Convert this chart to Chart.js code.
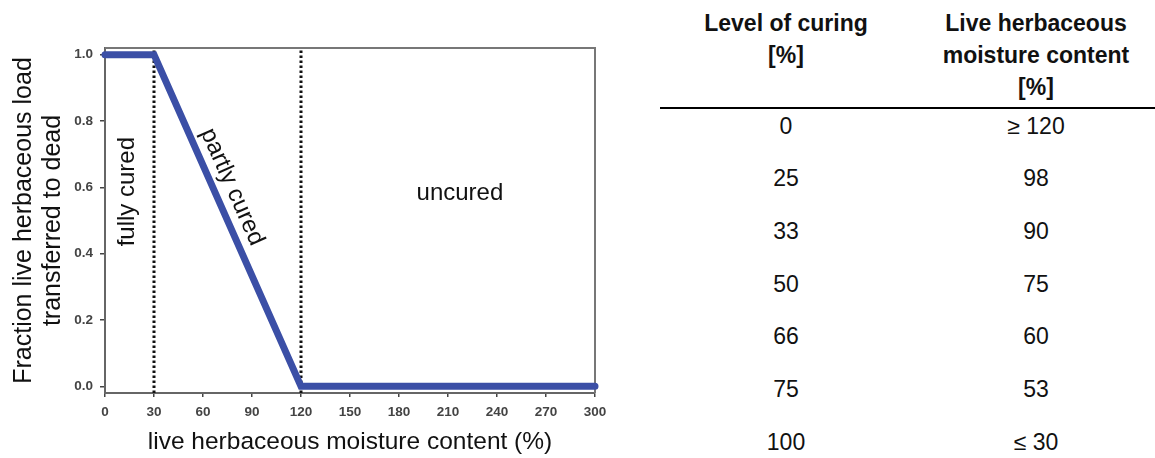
<!DOCTYPE html>
<html>
<head>
<meta charset="utf-8">
<script src="https://cdn.jsdelivr.net/npm/chart.js@4"></script>
<style>
    body { margin: 0; background: #fff; width: 1155px; height: 458px; overflow: hidden; position: relative;
           font-family: 'Liberation Sans', Arial, sans-serif; }
    #myChart { position: absolute; left: 0; top: 0; }
    .col { position: absolute; text-align: center; color: #111; }
    .head { top: 7px; font-weight: bold; font-size: 23px; line-height: 32px; }
    .cell { font-size: 23px; line-height: 28px; }
    #rule { position: absolute; left: 660px; top: 107px; width: 495px; height: 2px; background: #000; }
</style>
</head>
<body>
<canvas id="myChart" width="620" height="458"></canvas>
<div class="col head" style="left:686px; width:200px;">Level of curing<br>[%]</div>
<div class="col head" style="left:896px; width:280px;">Live herbaceous<br>moisture content<br>[%]</div>
<div id="rule"></div>
<div id="rows"></div>

<script>
    // 그래프 데이터
    let moisture = [0, 30, 120, 300];   // x : 생초 수분 함량 (%)
    let fraction = [1, 1, 0, 0];        // y : 고사체로 옮겨지는 비율
    let curingBounds = [30, 120];       // 점선 (fully / partly / uncured 경계)
    let xTicks = [0, 30, 60, 90, 120, 150, 180, 210, 240, 270, 300];
    let yTicks = [0, 0.2, 0.4, 0.6, 0.8, 1.0];

    // 오른쪽 표 데이터
    let curingLevels = ['0', '25', '33', '50', '66', '75', '100'];
    let moistureContent = ['≥ 120', '98', '90', '75', '60', '53', '≤ 30'];

    const FONT = "'Liberation Sans', Arial, sans-serif";

    // 표 만들기
    let rows = document.getElementById('rows');
    for (let i = 0; i < curingLevels.length; i++) {
        let top = 111.5 + i * 52.7;
        rows.innerHTML +=
            '<div class="col cell" style="left:686px; width:200px; top:' + top + 'px;">' + curingLevels[i] + '</div>' +
            '<div class="col cell" style="left:896px; width:280px; top:' + top + 'px;">' + moistureContent[i] + '</div>';
    }

    // 영역 이름 (데이터 좌표 기준)
    let zones = [
        { text: 'fully cured', x: 14, y: 0.587, rot: 'vertical' },
        { text: 'partly cured', x: 77.8, y: 0.601, rot: 'slope' },
        { text: 'uncured', x: 217.3, y: 0.582, rot: 'none' }
    ];

    // 위쪽 / 오른쪽 테두리
    let framePlugin = {
        id: 'frame',
        beforeDatasetsDraw(chart) {
            let a = chart.chartArea, c = chart.ctx;
            c.save();
            c.strokeStyle = '#777';
            c.lineWidth = 2;
            c.beginPath();
            c.moveTo(a.left, a.top);
            c.lineTo(a.right, a.top);
            c.lineTo(a.right, a.bottom);
            c.stroke();
            c.restore();
        }
    };

    // 글자 넣기
    let zonePlugin = {
        id: 'zones',
        afterDatasetsDraw(chart) {
            let xs = chart.scales.x, ys = chart.scales.y, c = chart.ctx;
            let slope = Math.atan2(ys.getPixelForValue(fraction[2]) - ys.getPixelForValue(fraction[1]),
                                   xs.getPixelForValue(moisture[2]) - xs.getPixelForValue(moisture[1]));
            c.save();
            c.fillStyle = '#111';
            c.font = '24px ' + FONT;
            c.textAlign = 'center';
            c.textBaseline = 'middle';
            zones.forEach(z => {
                c.save();
                c.translate(xs.getPixelForValue(z.x), ys.getPixelForValue(z.y));
                if (z.rot === 'vertical') c.rotate(-Math.PI / 2);
                if (z.rot === 'slope') c.rotate(slope);
                c.fillText(z.text, 0, 0);
                c.restore();
            });
            c.restore();
        }
    };

    let datasets = [{
        data: moisture.map((m, i) => ({ x: m, y: fraction[i] })),
        borderColor: '#3b4fa6',
        borderWidth: 7,
        borderCapStyle: 'round',
        pointRadius: 0,
        clip: false
    }];
    curingBounds.forEach(b => {
        datasets.push({
            data: [{ x: b, y: -0.02 }, { x: b, y: 1.02 }],
            borderColor: '#111',
            borderWidth: 3,
            borderDash: [2.5, 2.5],
            pointRadius: 0,
            clip: false
        });
    });

    let ctx = document.getElementById('myChart');
    let config = {
        type: 'line',
        data: { datasets: datasets },
        options: {
            responsive: false,
            animation: false,
            events: [],
            layout: { padding: { left: 5, top: 48, right: 25, bottom: 0 } },
            plugins: { legend: { display: false }, tooltip: { enabled: false } },
            scales: {
                x: {
                    type: 'linear',
                    min: 0,
                    max: 300,
                    afterBuildTicks: s => { s.ticks = xTicks.map(v => ({ value: v })); },
                    afterFit: s => { s.height = 65; },
                    grid: { drawOnChartArea: false, drawTicks: true, tickLength: 4, color: '#444', lineWidth: 1.5 },
                    border: { color: '#666', width: 2 },
                    ticks: { color: '#444', padding: 7, maxRotation: 0, font: { family: FONT, size: 13.5, weight: 'bold' } },
                    title: {
                        display: true,
                        text: 'live herbaceous moisture content (%)',
                        color: '#111',
                        padding: { top: 0, bottom: 2.5 },
                        font: { family: FONT, size: 24.5, lineHeight: 1.05 }
                    }
                },
                y: {
                    type: 'linear',
                    min: -0.02,
                    max: 1.02,
                    afterBuildTicks: s => { s.ticks = yTicks.map(v => ({ value: v })); },
                    afterFit: s => { s.width = 100; },
                    grid: { drawOnChartArea: false, drawTicks: true, tickLength: 5, color: '#444', lineWidth: 1.5 },
                    border: { color: '#666', width: 2 },
                    ticks: {
                        color: '#444',
                        padding: 7,
                        font: { family: FONT, size: 13.5, weight: 'bold' },
                        callback: v => v.toFixed(1)
                    },
                    title: {
                        display: true,
                        text: ['Fraction live herbaceous load', 'transferred to dead'],
                        color: '#111',
                        padding: { top: 4, bottom: 0 },
                        font: { family: FONT, size: 25, lineHeight: 1.17 }
                    }
                }
            }
        },
        plugins: [framePlugin, zonePlugin]
    };

    let myChart = new Chart(ctx, config);
</script>
</body>
</html>
